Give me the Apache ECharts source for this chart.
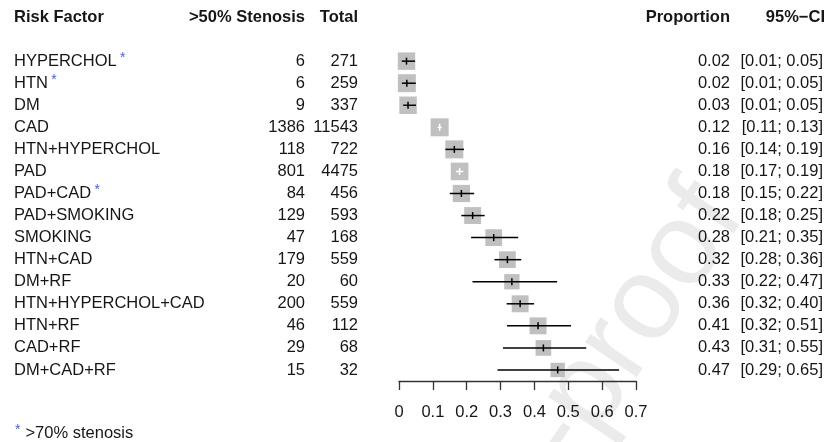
<!DOCTYPE html>
<html>
<head>
<meta charset="utf-8">
<script src="https://cdn.jsdelivr.net/npm/echarts@6/dist/echarts.min.js"></script>
<style>
  html, body { margin: 0; padding: 0; background: #fff; }
  #chart { width: 827px; height: 442px; }
</style>
</head>
<body>
<div id="chart"></div>
<script>
// Risk factors and stenosis counts
const riskFactors = ['HYPERCHOL', 'HTN', 'DM', 'CAD', 'HTN+HYPERCHOL', 'PAD', 'PAD+CAD', 'PAD+SMOKING',
  'SMOKING', 'HTN+CAD', 'DM+RF', 'HTN+HYPERCHOL+CAD', 'HTN+RF', 'CAD+RF', 'DM+CAD+RF'];
const stenosisCount = [6, 6, 9, 1386, 118, 801, 84, 129, 47, 179, 20, 200, 46, 29, 15];
const totalCount = [271, 259, 337, 11543, 722, 4475, 456, 593, 168, 559, 60, 559, 112, 68, 32];
// >70% stenosis marker
const severeFlag = [true, true, false, false, false, false, true, false, false, false, false, false, false, false, false];
// 95% confidence limits
const ciLower = [0.0082, 0.0085, 0.0123, 0.1142, 0.137, 0.168, 0.150, 0.184, 0.213, 0.282, 0.217, 0.318, 0.319, 0.307, 0.291];
const ciUpper = [0.0475, 0.0497, 0.0501, 0.1262, 0.192, 0.190, 0.222, 0.253, 0.352, 0.361, 0.467, 0.399, 0.508, 0.553, 0.650];
// relative study weights (box size)
const weights = [0.97, 1.0, 0.97, 1.0, 1.0, 0.98, 0.96, 0.94, 0.93, 0.93, 0.85, 0.94, 0.94, 0.87, 0.8];

const proportion = stenosisCount.map((e, i) => e / totalCount[i]);

const FONT = '"Liberation Sans", Arial, Helvetica, sans-serif';
const FS = 16.5;
const TXT = '#161616';
const STAR = '#3f5ff0';

const chart = echarts.init(document.getElementById('chart'), null, { renderer: 'canvas' });

const forestData = proportion.map((p, i) => [p, i, ciLower[i], ciUpper[i], weights[i]]);
const tableData = riskFactors.map((_, i) => [0, i]);

function txt(x, y, text, align, bold) {
  return {
    type: 'text',
    x: x, y: y,
    style: {
      text: text,
      align: align,
      verticalAlign: 'middle',
      fontFamily: FONT,
      fontSize: FS,
      fontWeight: bold ? 'bold' : 'normal',
      fill: TXT
    }
  };
}

const starRich = {
  n: { fontFamily: FONT, fontSize: FS, fill: TXT },
  s: { fontFamily: FONT, fontSize: 14, fill: STAR, padding: [0, 0, 6, 0] },
  f: { fontFamily: FONT, fontSize: 14, fill: STAR, padding: [0, 5, 6, 0] }
};

const option = {
  animation: false,
  backgroundColor: '#fff',
  graphic: [
    {
      type: 'text',
      z: -10,
      x: 719, y: 197,
      rotation: 56 * Math.PI / 180,
      silent: true,
      style: {
        text: 'Journal Pre-proof',
        align: 'right',
        verticalAlign: 'middle',
        fontFamily: FONT,
        fontSize: 118,
        fill: '#ebebeb'
      }
    },
    {
      type: 'text',
      x: 15, y: 433,
      style: {
        text: '{f|*}{n|>70% stenosis}',
        verticalAlign: 'middle',
        rich: starRich
      }
    }
  ],
  grid: { left: 399, width: 237, top: 6, height: 375 },
  xAxis: {
    type: 'value',
    position: 'bottom',
    min: 0, max: 0.7, interval: 0.1,
    splitLine: { show: false },
    axisLine: { show: true, onZero: false, lineStyle: { color: '#333', width: 1.3 } },
    axisTick: { show: true, length: 9, lineStyle: { color: '#333', width: 1.3 } },
    axisLabel: {
      margin: 23,
      fontFamily: FONT, fontSize: FS, color: TXT,
      formatter: v => String(+v.toFixed(1))
    }
  },
  yAxis: {
    type: 'value',
    inverse: true,
    min: -2.5, max: 14.5,
    show: false
  },
  series: [
    {
      // column headings
      type: 'custom',
      clip: false,
      silent: true,
      data: [[0, -2]],
      renderItem: (params, api) => {
        const y = api.coord([0, api.value(1)])[1];
        return {
          type: 'group',
          children: [
            txt(14, y, 'Risk Factor', 'left', true),
            txt(305, y, '>50% Stenosis', 'right', true),
            txt(358, y, 'Total', 'right', true),
            txt(730, y, 'Proportion', 'right', true),
            txt(825, y, '95%\u2212CI', 'right', true)
          ]
        };
      }
    },
    {
      // study table text
      type: 'custom',
      clip: false,
      silent: true,
      data: tableData,
      renderItem: (params, api) => {
        const i = params.dataIndex;
        const y = api.coord([0, api.value(1)])[1];
        const name = severeFlag[i]
          ? { type: 'text', x: 14, y: y, style: { text: '{n|' + riskFactors[i] + '} {s|*}', align: 'left', verticalAlign: 'middle', rich: starRich } }
          : txt(14, y, riskFactors[i], 'left', false);
        return {
          type: 'group',
          children: [
            name,
            txt(305, y, String(stenosisCount[i]), 'right', false),
            txt(358, y, String(totalCount[i]), 'right', false),
            txt(730, y, proportion[i].toFixed(2), 'right', false),
            txt(823, y, '[' + ciLower[i].toFixed(2) + '; ' + ciUpper[i].toFixed(2) + ']', 'right', false)
          ]
        };
      }
    },
    {
      // boxes and confidence intervals
      type: 'custom',
      clip: false,
      silent: true,
      data: forestData,
      renderItem: (params, api) => {
        const row = api.value(1);
        const p = api.coord([api.value(0), row]);
        const lo = api.coord([api.value(2), row]);
        const hi = api.coord([api.value(3), row]);
        const s = 18 * api.value(4);
        const inside = lo[0] > p[0] - s / 2 + 2 && hi[0] < p[0] + s / 2 - 2;
        const col = inside ? '#ffffff' : '#000000';
        return {
          type: 'group',
          children: [
            { type: 'rect', shape: { x: p[0] - s / 2, y: p[1] - s / 2, width: s, height: s }, style: { fill: '#c0c0c0' } },
            { type: 'line', shape: { x1: lo[0], y1: p[1], x2: hi[0], y2: p[1] }, style: { stroke: col, lineWidth: 1.5 } },
            { type: 'line', shape: { x1: p[0], y1: p[1] - 3.5, x2: p[0], y2: p[1] + 3.5 }, style: { stroke: col, lineWidth: 1.5 } }
          ]
        };
      }
    }
  ]
};

chart.setOption(option);
</script>
</body>
</html>
